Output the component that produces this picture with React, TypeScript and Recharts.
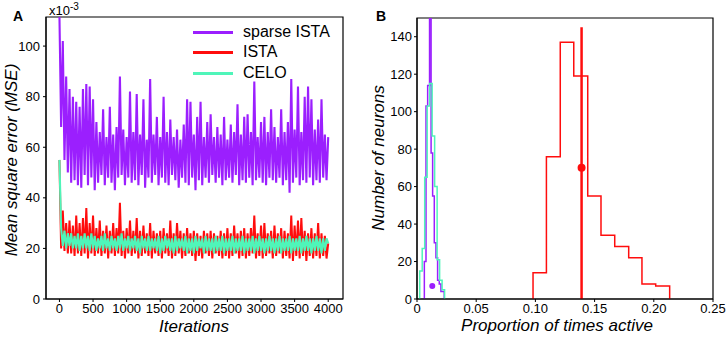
import { LineChart, Line, XAxis, YAxis, ReferenceArea, ReferenceLine, ReferenceDot } from "recharts";

// Panel A: MSE over training, one sample every 25 iterations
const iterations = Array.from({ length: 161 }, (_, i) => i * 25);

const sparseIsta = [
  112, 68, 102, 55, 88, 50, 83, 46, 80, 47, 78, 45, 76, 44, 83, 49, 85, 45, 84, 48,
  79, 43, 70, 46, 66, 49, 75, 45, 64, 48, 76, 46, 65, 43, 68, 48, 88, 49, 67, 45,
  64, 48, 82, 46, 66, 47, 81, 45, 65, 49, 79, 44, 63, 48, 87, 46, 65, 49, 72, 45,
  64, 48, 80, 46, 66, 45, 71, 49, 64, 47, 67, 44, 63, 48, 69, 46, 79, 45, 78, 48,
  65, 43, 72, 47, 78, 45, 64, 48, 70, 46, 73, 49, 64, 46, 68, 48, 65, 45, 72, 47,
  63, 48, 69, 46, 66, 49, 77, 45, 65, 47, 72, 46, 73, 48, 66, 45, 86, 47, 64, 48,
  70, 46, 72, 45, 66, 48, 75, 47, 68, 46, 64, 48, 75, 45, 66, 47, 70, 42, 87, 46,
  67, 48, 84, 45, 66, 47, 80, 46, 84, 48, 79, 45, 67, 47, 71, 46, 79, 48, 65, 47,
  64,
];

const ista = [
  55, 20, 35, 19, 30, 18, 31, 18, 29, 17, 33, 18, 30, 17, 32, 18, 36, 16, 30, 18,
  33, 17, 28, 18, 31, 17, 27, 18, 29, 16, 27, 18, 30, 17, 28, 18, 38, 17, 27, 16,
  28, 18, 31, 17, 27, 18, 32, 16, 27, 17, 29, 18, 26, 17, 30, 16, 27, 18, 26, 17,
  27, 16, 28, 18, 26, 17, 31, 16, 26, 17, 30, 18, 27, 16, 26, 17, 28, 18, 26, 17,
  27, 15, 26, 17, 25, 16, 27, 18, 26, 17, 27, 16, 26, 18, 25, 17, 27, 16, 26, 17,
  28, 16, 26, 17, 29, 18, 26, 16, 27, 17, 28, 16, 26, 17, 28, 18, 33, 16, 26, 17,
  29, 16, 30, 17, 26, 18, 27, 16, 29, 17, 26, 18, 28, 16, 27, 17, 26, 16, 33, 15,
  29, 17, 31, 16, 32, 17, 27, 15, 26, 17, 28, 16, 26, 17, 30, 16, 26, 17, 25, 16,
  22,
];

const celo = [
  55, 28, 21, 27, 20, 26, 21, 26, 20, 25, 20, 26, 19, 25, 20, 26, 20, 25, 19, 26,
  20, 25, 19, 24, 20, 25, 19, 26, 20, 24, 19, 25, 20, 24, 19, 25, 20, 26, 19, 24,
  20, 25, 19, 24, 20, 25, 19, 24, 18, 25, 20, 24, 19, 25, 19, 24, 20, 24, 19, 25,
  18, 24, 19, 25, 20, 24, 19, 24, 18, 25, 19, 24, 20, 24, 19, 25, 18, 24, 19, 24,
  18, 25, 19, 24, 20, 24, 18, 25, 19, 24, 19, 24, 18, 25, 19, 24, 19, 25, 18, 24,
  19, 24, 19, 25, 18, 24, 19, 24, 19, 25, 18, 24, 19, 24, 19, 25, 18, 24, 19, 25,
  19, 24, 18, 24, 19, 25, 19, 24, 18, 24, 19, 25, 18, 24, 19, 24, 19, 25, 18, 24,
  19, 24, 19, 25, 18, 24, 19, 25, 19, 24, 18, 24, 19, 25, 19, 24, 18, 24, 19, 24,
  22,
];

const mseTicks = [0, 20, 40, 60, 80, 100];
const iterTicks = [0, 500, 1000, 1500, 2000, 2500, 3000, 3500, 4000];

// Panel B: histograms of how often each neuron is active
const sparseEdges = [0.0062, 0.0076, 0.009, 0.0106, 0.0119, 0.0132, 0.0146, 0.016, 0.0174, 0.0188, 0.0202, 0.0216, 0.023];
const sparseCounts = [20, 103, 114, 190, 78, 55, 30, 22, 10, 8, 4, 4];

const istaEdges = [0.098, 0.1093, 0.121, 0.1324, 0.1442, 0.1554, 0.167, 0.1788, 0.19, 0.2016, 0.2134];
const istaCounts = [14, 76, 137, 119, 55, 34, 28, 22, 8, 7];

const celoEdges = [0.0023, 0.0044, 0.0065, 0.0086, 0.0107, 0.0128, 0.0149, 0.017, 0.0191, 0.0212, 0.0233];
const celoCounts = [15, 27, 65, 103, 115, 87, 60, 21, 10, 5];

const istaMean = 0.139;
const istaMeanTop = 145;
const istaMarkerY = 70;
const sparseMarker = { x: 0.0129, y: 7 };

const countTicks = [0, 10, 20, 30, 40, 50, 60, 70, 80, 90, 100, 110, 120, 130, 140];
const propTicks = [0, 0.05, 0.1, 0.15, 0.2, 0.25];

const PURPLE = "#9b1ffe";
const RED = "#ff0d0d";
const CYAN = "#4ff5b9";
const FONT = "'Liberation Sans', Arial, sans-serif";

const mseData = iterations.map((it, i) => ({
  it,
  sparse: sparseIsta[i],
  ista: ista[i],
  celo: celo[i],
}));

const histPoints = (edges: number[], counts: number[]) => {
  const pts = [{ x: edges[0], y: 0 }];
  counts.forEach((c, i) => pts.push({ x: edges[i], y: c }));
  pts.push({ x: edges[edges.length - 1], y: 0 });
  return pts;
};

const tickStyle = { fill: "#000", fontSize: 13, fontFamily: FONT };

const abs = (left: number, top: number, extra: React.CSSProperties = {}): React.CSSProperties => ({
  position: "absolute",
  left,
  top,
  fontFamily: FONT,
  whiteSpace: "nowrap",
  ...extra,
});

const App = () => {
  return (
    <div style={{ position: "absolute", left: 0, top: 0, width: 726, height: 342, background: "#fff" }}>
      <div style={{ position: "absolute", left: 0, top: 0 }}>
        <LineChart width={363} height={342} data={mseData} margin={{ top: 17, right: 20, bottom: 13, left: 0 }}>
          <XAxis
            dataKey="it"
            type="number"
            domain={[-200, 4220]}
            ticks={iterTicks}
            allowDataOverflow
            height={30}
            tickSize={3}
            tickMargin={2}
            tick={tickStyle}
            stroke="#000"
          />
          <YAxis
            type="number"
            domain={[0, 111.5]}
            ticks={mseTicks}
            allowDataOverflow
            width={46}
            tickSize={3}
            tickMargin={3}
            tick={tickStyle}
            stroke="#000"
          />
          <Line dataKey="sparse" stroke={PURPLE} strokeWidth={2.1} dot={false} isAnimationActive={false} />
          <Line dataKey="ista" stroke={RED} strokeWidth={2} dot={false} isAnimationActive={false} />
          <Line dataKey="celo" stroke={CYAN} strokeWidth={2.1} dot={false} isAnimationActive={false} />
          <ReferenceArea x1={-200} x2={4220} y1={0} y2={111.5} fill="none" stroke="#000" strokeWidth={1.2} />
        </LineChart>
      </div>

      <div style={{ position: "absolute", left: 363, top: 0 }}>
        <LineChart width={363} height={342} margin={{ top: 18, right: 13, bottom: 13, left: 0 }}>
          <XAxis
            dataKey="x"
            type="number"
            domain={[0, 0.25]}
            ticks={propTicks}
            allowDataOverflow
            height={30}
            tickSize={3}
            tickMargin={2}
            tick={tickStyle}
            tickFormatter={(v: number) => (v === 0 ? "0" : v.toFixed(2))}
            stroke="#000"
          />
          <YAxis
            type="number"
            domain={[0, 150]}
            ticks={countTicks}
            allowDataOverflow
            width={54}
            tickSize={3}
            tickMargin={2}
            tick={tickStyle}
            stroke="#000"
          />
          <Line data={histPoints(sparseEdges, sparseCounts)} dataKey="y" type="stepAfter" stroke={PURPLE} strokeWidth={1.5} dot={false} isAnimationActive={false} />
          <Line data={histPoints(istaEdges, istaCounts)} dataKey="y" type="stepAfter" stroke={RED} strokeWidth={1.5} dot={false} isAnimationActive={false} />
          <Line data={histPoints(celoEdges, celoCounts)} dataKey="y" type="stepAfter" stroke={CYAN} strokeWidth={1.5} dot={false} isAnimationActive={false} />
          <ReferenceLine segment={[{ x: istaMean, y: 0 }, { x: istaMean, y: istaMeanTop }]} stroke={RED} strokeWidth={2.5} />
          <ReferenceDot x={istaMean} y={istaMarkerY} r={4} fill={RED} stroke="none" />
          <ReferenceDot x={sparseMarker.x} y={sparseMarker.y} r={3} fill={PURPLE} stroke="none" />
          <ReferenceArea x1={0} x2={0.25} y1={0} y2={150} fill="none" stroke="#000" strokeWidth={1.2} />
        </LineChart>
      </div>

      {/* panel letters and axis titles */}
      <div style={abs(13, 8, { fontWeight: "bold", fontSize: 14 })}>A</div>
      <div style={abs(376, 8, { fontWeight: "bold", fontSize: 14 })}>B</div>
      <div style={abs(49, 1, { fontSize: 13 })}>
        x10<sup style={{ fontSize: 10 }}>-3</sup>
      </div>
      <div style={abs(12, 160, { fontSize: 17, fontStyle: "italic", transform: "translate(-50%, -50%) rotate(-90deg)" })}>
        Mean square error (MSE)
      </div>
      <div style={abs(194, 327, { fontSize: 17, fontStyle: "italic", transform: "translate(-50%, -50%)" })}>Iterations</div>
      <div style={abs(379, 158, { fontSize: 17, fontStyle: "italic", transform: "translate(-50%, -50%) rotate(-90deg)" })}>
        Number of neurons
      </div>
      <div style={abs(557, 326, { fontSize: 17, fontStyle: "italic", transform: "translate(-50%, -50%)" })}>
        Proportion of times active
      </div>

      {/* legend for panel A */}
      {[
        { name: "sparse ISTA", color: PURPLE, y: 32 },
        { name: "ISTA", color: RED, y: 52 },
        { name: "CELO", color: CYAN, y: 73 },
      ].map((e) => (
        <div key={e.name} style={abs(193, e.y, { display: "flex", alignItems: "center", transform: "translateY(-50%)" })}>
          <div style={{ width: 40, height: 3, background: e.color, marginRight: 10 }} />
          <span style={{ fontSize: 16 }}>{e.name}</span>
        </div>
      ))}
    </div>
  );
};

export default App;
